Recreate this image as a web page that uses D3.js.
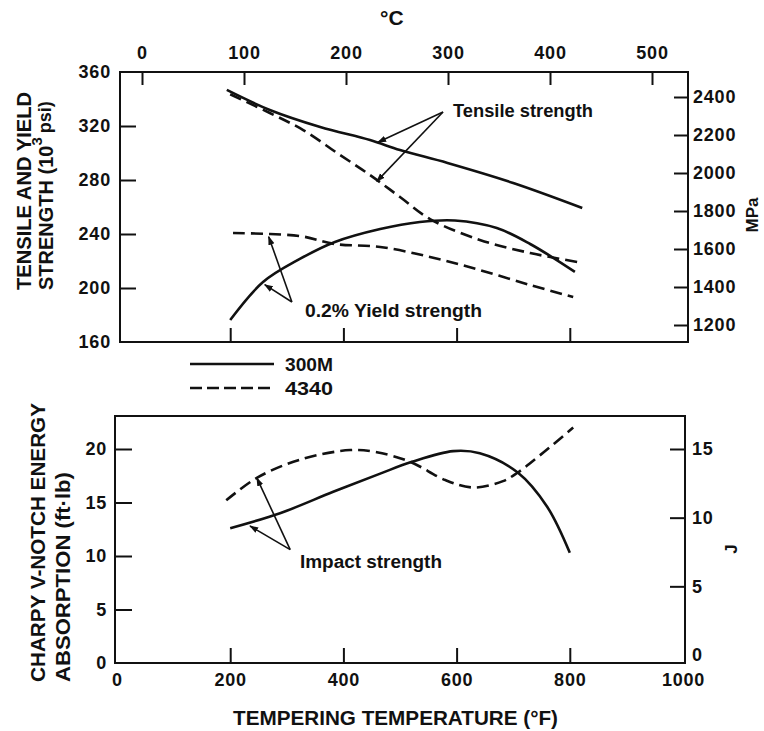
<!DOCTYPE html>
<html>
<head>
<meta charset="utf-8">
<script src="https://cdn.jsdelivr.net/npm/d3@7"></script>
<style>
  html, body { margin: 0; padding: 0; background: #fff; }
  svg { display: block; }
  text { font-family: "Liberation Sans", Arial, sans-serif; font-weight: bold; fill: #111; }
</style>
</head>
<body>
<svg id="chart" width="764" height="731"></svg>
<script>
// ---------------- DATA ----------------
const fTicks = [0, 200, 400, 600, 800, 1000];        // tempering temperature, °F
const cTicks = [0, 100, 200, 300, 400, 500];         // °C
const ksiTicks = [160, 200, 240, 280, 320, 360];     // 10^3 psi
const mpaTicks = [1200, 1400, 1600, 1800, 2000, 2200, 2400];
const ftlbTicks = [0, 5, 10, 15, 20];
const jTicks = [0, 5, 10, 15];

// Tensile strength (10^3 psi)
const tensile300M_F = [194, 270, 359, 447, 500, 584, 700, 822];
const tensile300M   = [346.7, 331.9, 319.3, 309.6, 302.2, 292.6, 277.8, 259.3];
const tensile4340_F = [200, 270, 329, 389, 447, 500, 553, 641, 730, 813];
const tensile4340   = [343.5, 329.6, 317.0, 300.0, 283.7, 267.4, 251.1, 235.6, 225.9, 219.3];

// 0.2% Yield strength (10^3 psi)
const yield300M_F = [200, 258, 323, 385, 465, 535, 597, 671, 730, 809];
const yield300M   = [176.3, 204.4, 221.5, 234.1, 243.7, 248.9, 250.0, 244.4, 232.6, 211.9];
const yield4340_F = [205, 323, 385, 465, 553, 641, 730, 806];
const yield4340   = [240.7, 238.5, 232.6, 230.4, 223.0, 213.3, 202.2, 193.3];

// Charpy V-notch impact energy (ft·lb)
const impact300M_F = [200, 288, 382, 465, 521, 594, 641, 708, 760, 800];
const impact300M   = [12.6, 14.0, 16.0, 17.7, 18.8, 19.8, 19.6, 17.8, 14.6, 10.3];
const impact4340_F = [193, 247, 323, 412, 459, 518, 580, 629, 682, 708, 747, 806];
const impact4340   = [15.2, 17.3, 19.0, 19.9, 19.7, 18.8, 17.1, 16.4, 17.0, 17.8, 19.4, 22.0];

const legendLabels = ["300M", "4340"];

// ---------------- LAYOUT ----------------
const svg = d3.select("#chart");
const boxT = { l: 120, r: 688, t: 72, b: 342 };
const boxB = { l: 115, r: 685, t: 416, b: 663 };

const xF = d3.scaleLinear().domain([0, 1000]).range([117, 683]);
const xC = d3.scaleLinear().domain([0, 500]).range([142, 652]);
const yKsi = d3.scaleLinear().domain([160, 360]).range([boxT.b, boxT.t]);
const yMPa = d3.scaleLinear().domain([1200, 2400]).range([325, 97]);
const yFt = d3.scaleLinear().domain([0, 20]).range([boxB.b, 449]);
const yJ = d3.scaleLinear().domain([0, 15]).range([655, 449]);

const FS = 18;
const DASH = "12,6";
const fmt = d3.format("d");

// defs: arrowhead
svg.append("defs").append("marker")
  .attr("id", "arr").attr("viewBox", "0 0 10 10").attr("refX", 9).attr("refY", 5)
  .attr("markerWidth", 9).attr("markerHeight", 9).attr("markerUnits", "userSpaceOnUse")
  .attr("orient", "auto")
  .append("path").attr("d", "M0,1.5 L10,5 L0,8.5 Z").attr("fill", "#111");

// frames
function frame(b) {
  svg.append("rect").attr("x", b.l).attr("y", b.t).attr("width", b.r - b.l).attr("height", b.b - b.t)
    .attr("fill", "none").attr("stroke", "#111").attr("stroke-width", 2);
}
frame(boxT); frame(boxB);

// ---------------- TOP PLOT AXES ----------------
const gL = svg.append("g").attr("transform", `translate(${boxT.l},0)`)
  .call(d3.axisLeft(yKsi).tickValues(ksiTicks).tickFormat(fmt).tickSize(-16).tickPadding(9));
const gT = svg.append("g").attr("transform", `translate(0,${boxT.t})`)
  .call(d3.axisTop(xC).tickValues(cTicks).tickFormat(fmt).tickSize(-13).tickPadding(13));
const gB1 = svg.append("g").attr("transform", `translate(0,${boxT.b})`)
  .call(d3.axisBottom(xF).tickValues([200, 400, 600, 800]).tickSize(-14).tickFormat(""));
const gR = svg.append("g").attr("transform", `translate(${boxT.r},0)`)
  .call(d3.axisRight(yMPa).tickValues(mpaTicks).tickFormat(fmt).tickSize(-14).tickPadding(5));

// ---------------- BOTTOM PLOT AXES ----------------
const gL2 = svg.append("g").attr("transform", `translate(${boxB.l},0)`)
  .call(d3.axisLeft(yFt).tickValues(ftlbTicks).tickFormat(fmt).tickSize(-17).tickPadding(8));
const gB2 = svg.append("g").attr("transform", `translate(0,${boxB.b})`)
  .call(d3.axisBottom(xF).tickValues(fTicks).tickFormat(fmt).tickSize(-15).tickPadding(10));
const gR2 = svg.append("g").attr("transform", `translate(${boxB.r},0)`)
  .call(d3.axisRight(yJ).tickValues(jTicks).tickFormat(fmt).tickSize(-15).tickPadding(7));

[gL, gT, gB1, gR, gL2, gB2, gR2].forEach(g => {
  g.select(".domain").remove();
  g.selectAll(".tick line").attr("stroke", "#111").attr("stroke-width", 2);
  g.selectAll(".tick text").attr("font-size", FS).attr("fill", "#111")
    .style("font-family", '"Liberation Sans", Arial, sans-serif').style("font-weight", "bold")
    .attr("letter-spacing", 0.8);
});
gL.selectAll(".tick").filter(d => d === 160 || d === 360).select("line").remove();
gL2.selectAll(".tick").filter(d => d === 0).select("line").remove();
gB2.selectAll(".tick").filter(d => d === 0 || d === 1000).select("line").remove();
gR2.selectAll(".tick").filter(d => d === 0).select("line").remove();

// ---------------- CURVES ----------------
const curve = d3.curveCatmullRom.alpha(0.5);
function series(xs, ys, yScale, dashed) {
  const pts = xs.map((x, i) => [x, ys[i]]);
  svg.append("path").datum(pts)
    .attr("d", d3.line().x(d => xF(d[0])).y(d => yScale(d[1])).curve(curve))
    .attr("fill", "none").attr("stroke", "#111").attr("stroke-width", 2.6)
    .attr("stroke-linecap", "butt")
    .attr("stroke-dasharray", dashed ? DASH : null);
}
series(tensile300M_F, tensile300M, yKsi, false);
series(tensile4340_F, tensile4340, yKsi, true);
series(yield300M_F, yield300M, yKsi, false);
series(yield4340_F, yield4340, yKsi, true);
series(impact300M_F, impact300M, yFt, false);
series(impact4340_F, impact4340, yFt, true);

// ---------------- ANNOTATIONS ----------------
function arrow(x1, y1, x2, y2) {
  svg.append("line").attr("x1", x1).attr("y1", y1).attr("x2", x2).attr("y2", y2)
    .attr("stroke", "#111").attr("stroke-width", 1.6).attr("marker-end", "url(#arr)");
}
arrow(xF(576), yKsi(330.4), xF(461), yKsi(308));
arrow(xF(576), yKsi(330.4), xF(459), yKsi(279));
svg.append("text").attr("x", 453).attr("y", 117).attr("font-size", 18)
  .attr("textLength", 140).attr("lengthAdjust", "spacingAndGlyphs").text("Tensile strength");

arrow(xF(309), yKsi(189.6), xF(268), yKsi(238));
arrow(xF(309), yKsi(189.6), xF(261), yKsi(202.5));
svg.append("text").attr("x", 305).attr("y", 317).attr("font-size", 18)
  .attr("textLength", 177).attr("lengthAdjust", "spacingAndGlyphs").text("0.2% Yield strength");

arrow(xF(306), yFt(10.6), xF(247), yFt(17.3));
arrow(xF(306), yFt(10.6), xF(235), yFt(12.8));
svg.append("text").attr("x", 300).attr("y", 568).attr("font-size", 18)
  .attr("textLength", 142).attr("lengthAdjust", "spacingAndGlyphs").text("Impact strength");

// ---------------- LEGEND ----------------
legendLabels.forEach((lab, i) => {
  const y = 364 + i * 24;
  svg.append("line").attr("x1", 190).attr("x2", 274).attr("y1", y).attr("y2", y)
    .attr("stroke", "#111").attr("stroke-width", 2.6)
    .attr("stroke-dasharray", i === 1 ? "12,5" : null);
  svg.append("text").attr("x", 285).attr("y", y + 7).attr("font-size", 18)
    .attr("textLength", 48).attr("lengthAdjust", "spacingAndGlyphs").text(lab);
});

// ---------------- TITLES ----------------
svg.append("text").attr("x", 380).attr("y", 25).attr("font-size", 21).text("°C");

svg.append("text").attr("transform", "translate(31,290) rotate(-90)").attr("font-size", 21)
  .attr("textLength", 198).attr("lengthAdjust", "spacingAndGlyphs").text("TENSILE AND YIELD");
const t2 = svg.append("text").attr("transform", "translate(53,290) rotate(-90)").attr("font-size", 20);
t2.append("tspan").text("STRENGTH (10");
t2.append("tspan").attr("font-size", 15).attr("dy", -11).text("3");
t2.append("tspan").attr("font-size", 18).attr("dy", 9).attr("dx", 4).text("psi)");

svg.append("text").attr("transform", "translate(758,215) rotate(-90)").attr("text-anchor", "middle")
  .attr("font-size", 17).text("MPa");

svg.append("text").attr("transform", "translate(45,682) rotate(-90)").attr("font-size", 21)
  .attr("textLength", 279).attr("lengthAdjust", "spacingAndGlyphs").text("CHARPY V-NOTCH ENERGY");
svg.append("text").attr("transform", "translate(70,682) rotate(-90)").attr("font-size", 21)
  .attr("textLength", 210).attr("lengthAdjust", "spacingAndGlyphs").text("ABSORPTION (ft·lb)");

svg.append("text").attr("transform", "translate(737,549) rotate(-90)").attr("text-anchor", "middle")
  .attr("font-size", 17).text("J");

svg.append("text").attr("x", 233).attr("y", 725).attr("font-size", 20)
  .attr("textLength", 325).attr("lengthAdjust", "spacingAndGlyphs").text("TEMPERING TEMPERATURE (°F)");
</script>
</body>
</html>
